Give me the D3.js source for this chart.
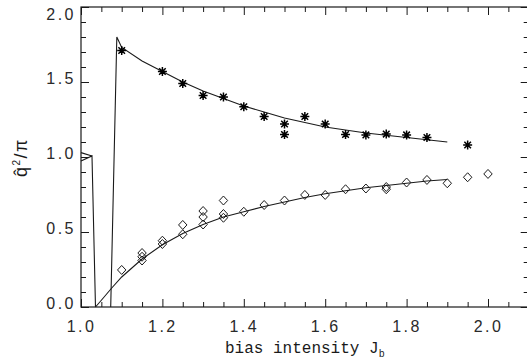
<!DOCTYPE html>
<html>
<head>
<meta charset="utf-8">
<script src="https://cdn.jsdelivr.net/npm/d3@7"></script>
<style>
  body { margin: 0; background: #fff; }
  svg { display: block; }
</style>
</head>
<body>
<svg id="chart"></svg>
<script>
// ---------- data ----------
const xMajor = [1.0, 1.2, 1.4, 1.6, 1.8, 2.0];
const yMajor = [0.0, 0.5, 1.0, 1.5, 2.0];

// measured points, upper branch (asterisks)
const stars = [[1.10,1.71],[1.20,1.57],[1.25,1.49],[1.30,1.41],[1.35,1.40],[1.40,1.335],
  [1.45,1.27],[1.50,1.22],[1.50,1.15],[1.55,1.27],[1.60,1.22],[1.65,1.15],[1.70,1.147],
  [1.75,1.153],[1.80,1.147],[1.85,1.13],[1.95,1.08]];

// measured points, lower branch (diamonds)
const diamonds = [[1.10,0.247],[1.15,0.36],[1.15,0.335],[1.15,0.31],[1.20,0.442],[1.20,0.42],
  [1.25,0.547],[1.25,0.485],[1.30,0.64],[1.30,0.60],[1.30,0.55],[1.35,0.71],[1.35,0.62],
  [1.35,0.595],[1.40,0.635],[1.45,0.68],[1.50,0.71],[1.55,0.747],[1.60,0.747],[1.65,0.785],
  [1.70,0.79],[1.75,0.80],[1.75,0.785],[1.80,0.83],[1.85,0.847],[1.90,0.825],[1.95,0.865],
  [2.00,0.887]];

// theory curves
const upperCurve = [[1.073,0],[1.088,1.80],[1.10,1.73],[1.15,1.64],[1.20,1.57],[1.25,1.50],
  [1.30,1.44],[1.35,1.39],[1.40,1.34],[1.45,1.30],[1.50,1.26],[1.55,1.23],[1.60,1.20],
  [1.65,1.18],[1.70,1.16],[1.75,1.145],[1.80,1.13],[1.85,1.115],[1.90,1.10]];
const lowerCurve = [[1.0356,0],[1.05,0.045],[1.075,0.125],[1.10,0.20],[1.15,0.32],[1.20,0.415],
  [1.25,0.49],[1.30,0.55],[1.35,0.60],[1.40,0.635],[1.45,0.67],[1.50,0.70],[1.55,0.73],
  [1.60,0.755],[1.65,0.775],[1.70,0.795],[1.75,0.81],[1.80,0.825],[1.85,0.84],[1.90,0.85]];
const leftUpper = [[1.0,1.029],[1.027,1.007]];
const leftLower = [[1.0,0.973],[1.027,1.007],[1.0356,0]];

// ---------- canvas ----------
const W = 527, H = 364;
const svg = d3.select("#chart").attr("width", W).attr("height", H);

const x = d3.scaleLinear().domain([1.0, 2.1]).range([81, 528.7]);
const y = d3.scaleLinear().domain([0, 2]).range([307, 7]);

const xMinor = d3.range(1.0, 2.1001, 0.05).map(v => +v.toFixed(2)).filter(v => !xMajor.includes(v));
const yMinor = d3.range(0, 2.0001, 0.1).map(v => +v.toFixed(1)).filter(v => !yMajor.includes(v));

const ink = "#1a1a1a";
const font = "'Liberation Sans', Arial, sans-serif";

// ---------- axes ----------
function axis(gen, tr, vals, size, labels, pad) {
  const g = svg.append("g").attr("transform", tr)
    .call(gen.tickValues(vals).tickSize(size).tickPadding(pad || 3)
      .tickFormat(labels ? d3.format(".1f") : ""));
  g.select(".domain").remove();
  g.selectAll("line").attr("stroke", ink).attr("stroke-width", 1);
  g.selectAll("text").attr("font-family", font).attr("font-size", 16)
    .attr("letter-spacing", 2.5).attr("fill", "#2a2a2a");
  return g;
}

axis(d3.axisBottom(x), "translate(0,307)", xMajor, -8, true, 14);
axis(d3.axisBottom(x), "translate(0,307)", xMinor, -5, false);
axis(d3.axisTop(x), "translate(0,7)", xMajor, -8, false);
axis(d3.axisTop(x), "translate(0,7)", xMinor, -5, false);
const gl = axis(d3.axisLeft(y), "translate(81,0)", yMajor, -8, true, 5);
gl.selectAll("text").attr("dy", d => d === 2 ? "0.75em" : "0.1em");
axis(d3.axisLeft(y), "translate(81,0)", yMinor, -5, false);
axis(d3.axisRight(y), "translate(528.7,0)", yMajor, -8, false);
axis(d3.axisRight(y), "translate(528.7,0)", yMinor, -5, false);

// frame
svg.append("rect")
  .attr("x", x(1.0)).attr("y", y(2))
  .attr("width", x(2.1) - x(1.0)).attr("height", y(0) - y(2))
  .attr("fill", "none").attr("stroke", ink).attr("stroke-width", 1.2);

// ---------- curves ----------
const line = d3.line().x(d => x(d[0])).y(d => y(d[1]));
[upperCurve, lowerCurve, leftUpper, leftLower].forEach(c => {
  svg.append("path").attr("d", line(c))
    .attr("fill", "none").attr("stroke", ink).attr("stroke-width", 1.1);
});

// ---------- markers ----------
svg.append("g").selectAll("path").data(stars).enter().append("path")
  .attr("transform", d => "translate(" + x(d[0]) + "," + y(d[1]) + ")")
  .attr("d", "M-4.5,0H4.5M0,-4.5V4.5M-3.3,-3.3L3.3,3.3M-3.3,3.3L3.3,-3.3")
  .attr("stroke", "#000").attr("stroke-width", 1.5).attr("fill", "none");

svg.append("g").selectAll("path").data(diamonds).enter().append("path")
  .attr("transform", d => "translate(" + x(d[0]) + "," + y(d[1]) + ")")
  .attr("d", "M0,-4.5L4.2,0L0,4.5L-4.2,0Z")
  .attr("stroke", ink).attr("stroke-width", 1).attr("fill", "none");

// ---------- titles ----------
const xt = svg.append("text")
  .attr("x", 225).attr("y", 353)
  .attr("font-family", "'Liberation Mono', 'DejaVu Sans Mono', monospace")
  .attr("font-size", 16).attr("fill", "#1a1a1a");
xt.append("tspan").text("bias intensity J");
xt.append("tspan").attr("font-size", 10).attr("dy", 4).text("b");

const yt = svg.append("text")
  .attr("transform", "translate(27,177) rotate(-90)")
  .attr("font-family", font).attr("font-size", 18).attr("letter-spacing", 1.5).attr("fill", "#1a1a1a");
yt.append("tspan").text("q\u0302");
yt.append("tspan").attr("font-size", 10).attr("dy", -7).text("2");
yt.append("tspan").attr("dy", 7).text("/\u03c0");
</script>
</body>
</html>
